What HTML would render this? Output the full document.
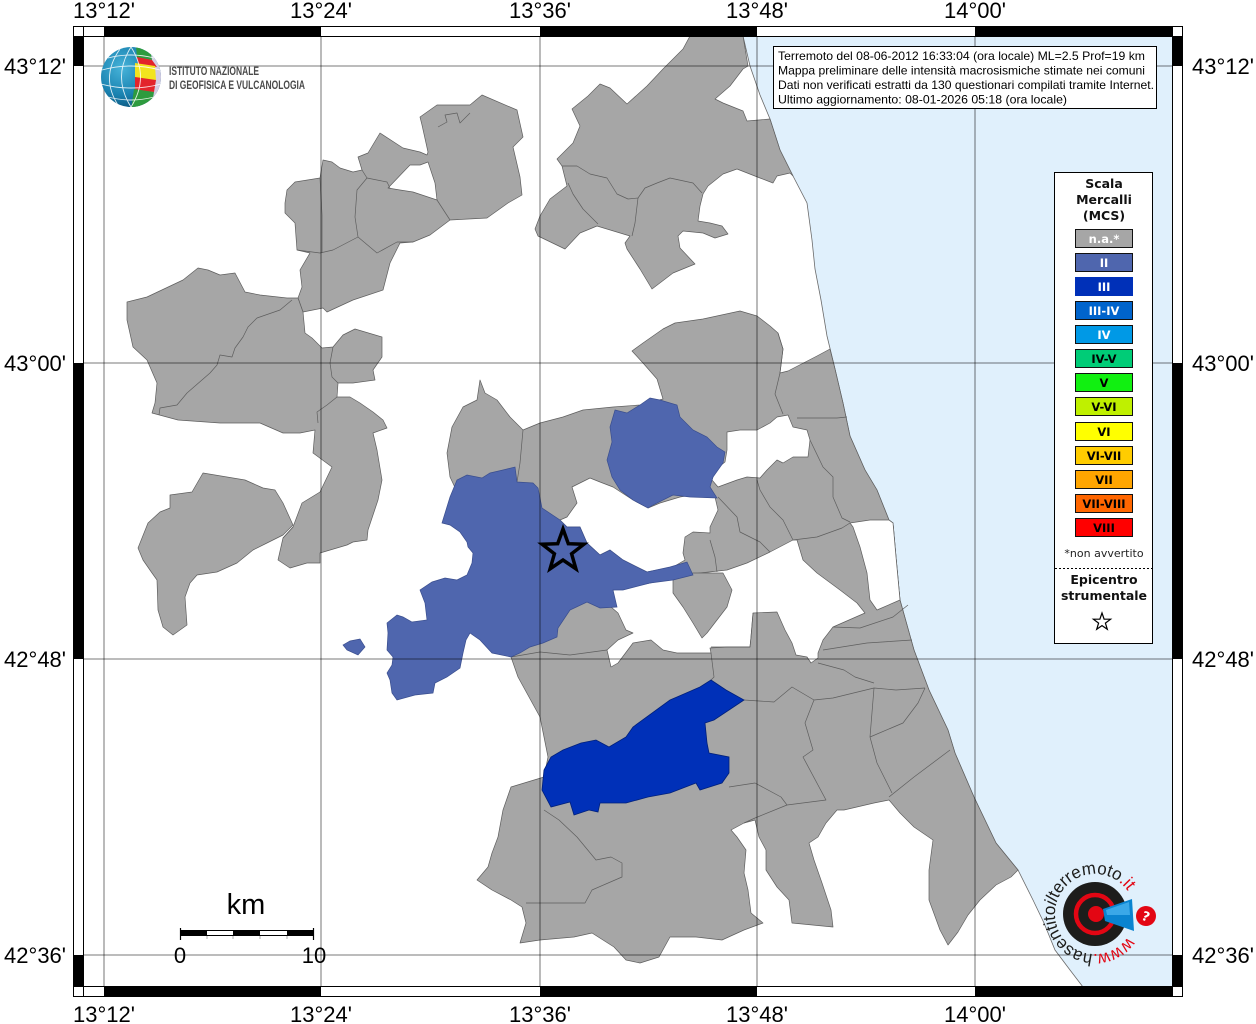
<!DOCTYPE html>
<html><head><meta charset="utf-8">
<style>
html,body{margin:0;padding:0;background:#fff;}
svg{display:block;}
.lbl{font-family:"Liberation Sans",Arial,sans-serif;font-size:22px;fill:#000;}
.lg{font-family:"DejaVu Sans","Liberation Sans",sans-serif;font-weight:bold;font-size:11.5px;text-anchor:middle;}
.lt{font-family:"DejaVu Sans","Liberation Sans",sans-serif;font-weight:bold;font-size:12.5px;text-anchor:middle;fill:#111;}
.info{font-family:"Liberation Sans",Arial,sans-serif;font-size:12px;fill:#000;}
.g{fill:#a6a6a6;stroke:#5e5e5e;stroke-width:0.7;stroke-linejoin:round;}
.w{fill:#fff;stroke:#5e5e5e;stroke-width:0.7;stroke-linejoin:round;}
.b{fill:none;stroke:#5e5e5e;stroke-width:0.7;stroke-linejoin:round;}
</style></head><body>
<svg width="1256" height="1024" viewBox="0 0 1256 1024" xmlns="http://www.w3.org/2000/svg">
<defs>
<clipPath id="mapclip"><rect x="83" y="36" width="1090" height="951"/></clipPath>
<clipPath id="globe"><circle cx="131" cy="77" r="30"/></clipPath>
<radialGradient id="gg" cx="0.35" cy="0.35" r="0.75">
<stop offset="0" stop-color="#46b3d9"/><stop offset="0.6" stop-color="#1a82b0"/><stop offset="1" stop-color="#0a4d74"/>
</radialGradient>
</defs>
<rect width="1256" height="1024" fill="#fff"/>
<g clip-path="url(#mapclip)">
<!-- sea -->
<polygon fill="#e0f0fc" stroke="#6a6a6a" stroke-width="0.8" points="743,36 750,66 760,95 770,119 780,150 793,176 807,203 812,240 815,269 821,300 827,336 835,369 843,403 850,436 865,470 877,490 889,520 893,523 896,557 900,600 914,650 929,690 948,730 955,753 974,797 996,843 1018,870 1033,900 1044,923 1055,950 1070,970 1083,987 1180,987 1180,30 743,30"/>

<!-- NW top cluster -->
<polygon class="g" points="285,203 287,190 295,182 320,178 323,160 332,162 340,168 353,172 362,170 358,157 368,153 380,133 403,148 420,152 427,155 428,152 422,125 420,117 437,105 470,105 482,95 517,110 523,137 513,147 520,177 522,195 508,203 487,218 450,220 430,235 413,242 400,243 390,263 383,290 353,300 327,312 323,308 303,312 298,298 302,287 300,270 310,253 297,250 295,223 285,213"/>
<polygon class="w" points="388,188 410,165 420,165 428,162 435,183 437,200 413,192 400,190"/>
<polyline class="b" points="320,178 322,215 322,253"/>
<polyline class="b" points="362,170 367,178 357,190 355,217 358,237 377,253 397,242 413,242"/>
<polyline class="b" points="367,178 387,182 390,188"/>
<polyline class="b" points="437,200 450,220"/>
<polyline class="b" points="297,250 320,253 333,250 358,237"/>
<polyline class="b" points="438,127 447,122 445,115 457,113 460,123 470,113"/>

<!-- W big left cluster -->
<polygon class="g" points="127,302 147,297 183,280 198,268 208,270 220,275 235,273 245,292 260,295 287,298 298,298 303,312 305,333 312,338 322,348 333,347 343,335 355,329 382,337 382,357 373,370 375,380 353,383 338,383 337,397 350,397 360,403 373,412 383,420 387,428 373,433 377,450 382,480 378,500 368,530 367,540 353,542 347,545 320,553 320,563 307,563 290,568 278,560 283,538 293,527 302,503 320,492 332,467 313,453 315,430 300,433 283,433 260,423 220,423 178,420 152,413 155,403 157,383 147,360 133,347 127,320"/>
<polyline class="b" points="292,300 280,310 257,318 248,327 243,337 235,348 232,357 220,355 217,365 210,373 187,393 177,405 160,408 159,415"/>
<polyline class="b" points="333,347 330,363 332,377 338,383"/>
<polyline class="b" points="337,397 327,405 317,412 318,423"/>
<polyline class="b" points="283,538 293,527"/>

<!-- SW piece -->
<polygon class="g" points="138,548 148,523 160,512 170,508 170,495 192,492 203,473 227,477 245,480 263,488 275,490 283,503 293,525 283,535 267,543 253,550 237,563 217,572 197,575 190,583 185,597 187,625 173,635 163,627 158,610 157,580 152,573 143,560"/>

<!-- top-middle cluster -->
<polygon class="g" points="627,104 647,86 663,69 683,49 690,36 743,36 748,66 743,69 730,86 715,99 723,103 743,111 747,121 770,119 780,150 793,176 790,173 777,176 773,183 760,178 737,169 723,174 708,186 703,194 700,206 698,221 710,223 722,226 728,234 715,238 703,233 683,231 678,236 680,248 695,264 673,273 652,289 640,269 627,249 625,243 630,236 597,226 580,233 565,249 538,236 535,229 540,216 550,199 567,186 562,166 557,159 573,143 580,126 572,109 588,96 600,84 610,88"/>
<polyline class="b" points="562,166 577,166 590,174 607,178 617,194 628,199 638,198 645,188 657,183 670,178 693,183 702,193"/>
<polyline class="b" points="568,183 573,194 583,209 598,224"/>
<polyline class="b" points="638,198 635,223 632,236"/>

<!-- SE mass -->
<polygon class="g" points="632,351 643,343 663,329 675,323 703,319 740,311 757,316 770,326 778,333 783,349 780,373 788,371 817,356 830,349 835,369 843,403 850,436 865,470 877,490 889,520 893,523 896,557 900,600 914,650 929,690 948,730 955,753 974,797 996,843 1018,870 1011,877 996,885 980,900 968,915 958,932 948,945 940,930 929,900 929,870 933,840 914,827 900,813 889,800 874,803 844,810 837,810 826,823 818,837 809,843 814,860 822,883 831,910 833,927 792,923 789,900 777,887 766,870 766,850 759,837 755,820 744,823 731,830 737,837 746,850 744,873 748,890 751,913 763,923 744,930 722,940 696,937 670,937 659,957 640,963 626,960 614,947 592,933 574,937 540,940 520,943 526,923 522,907 511,900 492,890 477,880 488,867 492,853 498,837 503,810 511,787 544,777 548,757 544,737 540,717 529,697 518,677 511,657 515,640 500,600 480,540 450,477 447,453 452,427 463,407 477,400 480,380 485,393 497,400 510,417 523,430 540,423 563,417 583,410 613,407 640,405 663,399 657,379 643,363"/>
<!-- white holes -->
<polygon class="w" points="577,503 572,487 590,478 600,482 613,487 633,500 648,508 660,503 680,497 703,493 715,497 718,510 710,527 710,533 693,532 685,537 683,553 685,560 673,567 647,572 623,560 610,550 600,555 587,543 580,527 567,527 560,520 567,517"/>
<polygon class="w" points="727,432 740,430 757,430 770,423 777,417 788,415 793,427 807,430 810,440 808,457 793,457 783,463 777,460 767,470 760,478 747,477 737,480 718,487 712,480 715,470 725,462 727,450"/>
<polygon class="w" points="850,523 870,520 889,520 893,523 896,557 900,600 877,610 870,600 867,573 860,547 853,527"/>
<polygon class="w" points="611,607 613,590 650,583 673,578 700,573 727,570 747,563 770,552 793,540 797,540 803,560 817,573 840,590 857,603 865,613 833,627 823,640 818,653 818,658 811,663 807,657 796,655 792,643 785,630 777,612 753,613 751,637 750,647 727,647 710,648 711,653 677,653 663,650 651,640 633,643 618,663 611,667 607,650 618,640 633,633 626,630 618,613"/>
<!-- shield -->
<polygon class="g" points="673,580 693,573 723,573 732,590 727,607 717,620 707,633 702,638 693,623 683,607 673,593"/>
<!-- internal borders SE -->
<polyline class="b" points="778,333 783,349 780,373 775,394 783,414"/>
<polyline class="b" points="797,418 837,418 847,417"/>
<polyline class="b" points="810,440 823,467 833,477 833,497 842,518 850,522"/>
<polyline class="b" points="793,540 817,537 842,528 850,523"/>
<polyline class="b" points="757,480 760,490 770,507 783,520 793,540"/>
<polyline class="b" points="718,497 737,517 740,532 760,542 770,552"/>
<polyline class="b" points="710,540 715,557 717,572"/>
<polyline class="b" points="523,430 520,463 517,482"/>
<polyline class="b" points="833,627 860,628 893,617 908,605"/>
<polyline class="b" points="823,650 867,643 912,640"/>
<polyline class="b" points="818,663 844,670 855,677 874,683"/>
<polyline class="b" points="711,653 714,677 711,680"/>
<polyline class="b" points="744,700 774,702 792,687 814,700 833,698 874,688 896,690 925,688"/>
<polyline class="b" points="814,700 805,723 813,750 803,757 826,800 787,805 755,818 744,823"/>
<polyline class="b" points="729,787 755,783 781,797 787,805"/>
<polyline class="b" points="874,688 870,737 877,763 892,793"/>
<polyline class="b" points="870,737 903,723 918,703 925,688"/>
<polyline class="b" points="889,797 914,777 950,750"/>
<polyline class="b" points="544,810 559,820 577,837 596,860 611,857 622,863 622,877 592,890 585,903 555,903 526,903"/>
<polyline class="b" points="511,657 540,652 570,655 607,650"/>
<polyline class="b" points="753,613 751,637 750,647 711,647"/>

<!-- blue II big -->
<polygon fill="#4f66ae" stroke="#3a4e8e" stroke-width="0.7" points="442,523 450,497 457,480 467,475 482,478 490,473 503,470 515,467 517,482 533,483 538,488 542,508 560,520 567,527 580,527 587,543 600,555 610,550 623,560 647,572 670,567 687,562 693,575 673,580 650,583 623,590 613,590 617,607 600,608 587,602 570,610 558,628 557,637 543,643 530,647 520,653 511,657 492,653 480,640 470,633 466,640 463,653 460,668 447,677 435,683 433,693 415,695 397,700 392,693 390,680 387,673 392,665 393,657 387,650 388,633 387,623 397,615 403,617 412,622 427,620 425,603 420,590 432,582 445,578 457,580 467,575 472,563 473,553 468,547 467,542 460,532 450,525"/>
<!-- blue II NE -->
<polygon fill="#4f66ae" stroke="#3a4e8e" stroke-width="0.7" points="615,410 627,413 640,405 650,398 660,400 677,405 680,417 693,430 707,437 717,447 725,452 723,463 713,477 710,487 717,498 690,497 673,495 653,505 648,508 633,500 620,490 612,477 607,460 612,442 610,427"/>
<!-- blue small -->
<polygon fill="#4f66ae" stroke="#3a4e8e" stroke-width="0.7" points="343,645 350,641 360,639 365,647 358,655 347,650"/>
<!-- blue III -->
<polygon fill="#0030b8" stroke="#00207a" stroke-width="0.8" points="711,680 726,690 744,700 729,710 714,720 705,723 707,743 709,753 729,757 729,773 722,783 700,790 696,783 670,793 648,797 626,803 600,803 598,812 589,810 574,815 570,802 551,807 542,790 544,770 551,757 563,750 581,743 596,740 609,747 626,737 633,727 670,700 677,697 700,687"/>

<!-- grid -->
<g stroke="#000" stroke-opacity="0.42" stroke-width="1.3">
<line x1="104" y1="36" x2="104" y2="987"/><line x1="321" y1="36" x2="321" y2="987"/><line x1="540" y1="36" x2="540" y2="987"/><line x1="757" y1="36" x2="757" y2="987"/><line x1="975" y1="36" x2="975" y2="987"/>
<line x1="83" y1="66" x2="1173" y2="66"/><line x1="83" y1="363" x2="1173" y2="363"/><line x1="83" y1="659" x2="1173" y2="659"/><line x1="83" y1="955" x2="1173" y2="955"/>
</g>
</g>

<!-- epicentre star -->
<polygon fill="none" stroke="#000" stroke-width="3.5" stroke-linejoin="miter" points="563,529 568.3,543.7 583.9,544.2 571.6,553.8 575.9,568.8 563,560 550.1,568.8 554.4,553.8 542.1,544.2 557.7,543.7"/>

<!-- frame -->
<g>
<rect x="73.5" y="26.5" width="1109" height="970" fill="none" stroke="#000" stroke-width="1"/>
<rect x="83.5" y="36.5" width="1089" height="950" fill="none" stroke="#000" stroke-width="1"/>
<rect x="104" y="27" width="217" height="9" fill="#000"/><rect x="540" y="27" width="217" height="9" fill="#000"/><rect x="975" y="27" width="198" height="9" fill="#000"/>
<rect x="104" y="987" width="217" height="9" fill="#000"/><rect x="540" y="987" width="217" height="9" fill="#000"/><rect x="975" y="987" width="198" height="9" fill="#000"/>
<rect x="74" y="36" width="9" height="30" fill="#000"/><rect x="74" y="363" width="9" height="296" fill="#000"/><rect x="74" y="955" width="9" height="32" fill="#000"/>
<rect x="1173" y="36" width="9" height="30" fill="#000"/><rect x="1173" y="363" width="9" height="296" fill="#000"/><rect x="1173" y="955" width="9" height="32" fill="#000"/>
<g stroke="#000" stroke-width="1">
<line x1="73" y1="36.5" x2="83" y2="36.5"/><line x1="73" y1="986.5" x2="83" y2="986.5"/><line x1="1173" y1="36.5" x2="1183" y2="36.5"/><line x1="1173" y1="986.5" x2="1183" y2="986.5"/>
<line x1="83.5" y1="26" x2="83.5" y2="36"/><line x1="1172.5" y1="26" x2="1172.5" y2="36"/><line x1="83.5" y1="987" x2="83.5" y2="997"/><line x1="1172.5" y1="987" x2="1172.5" y2="997"/>
</g>
</g>

<!-- axis labels -->
<g class="lbl" text-anchor="middle">
<text x="104" y="18">13°12'</text><text x="321" y="18">13°24'</text><text x="540" y="18">13°36'</text><text x="757" y="18">13°48'</text><text x="975" y="18">14°00'</text>
<text x="104" y="1022">13°12'</text><text x="321" y="1022">13°24'</text><text x="540" y="1022">13°36'</text><text x="757" y="1022">13°48'</text><text x="975" y="1022">14°00'</text>
</g>
<g class="lbl" text-anchor="end">
<text x="66" y="74">43°12'</text><text x="66" y="371">43°00'</text><text x="66" y="667">42°48'</text><text x="66" y="963">42°36'</text>
</g>
<g class="lbl" text-anchor="start">
<text x="1192" y="74">43°12'</text><text x="1192" y="371">43°00'</text><text x="1192" y="667">42°48'</text><text x="1192" y="963">42°36'</text>
</g>

<!-- INGV logo -->
<g>
<circle cx="131" cy="77" r="30" fill="url(#gg)"/>
<g clip-path="url(#globe)">
<polygon fill="#d3cde3" points="149,46 166,50 166,105 149,105"/>
<polygon fill="#2e9b3e" points="136,46 150,48 152,60 137,58"/>
<polygon fill="#e3242b" points="137,57 152,60 157,67 138,64"/>
<polygon fill="#f2e41e" points="135,63 155,66 156,80 135,78"/>
<polygon fill="#e3242b" points="135,77 156,80 154,92 135,90"/>
<polygon fill="#2e9b3e" points="134,89 154,92 151,110 131,110"/>
<g fill="none" stroke="#fff" stroke-width="0.9" opacity="0.85">
<path d="M131,47 Q112,77 131,107"/><path d="M131,47 Q150,77 131,107"/><path d="M120,49 Q100,77 118,105"/>
<path d="M102,70 Q131,62 160,70"/><path d="M101,84 Q131,92 161,84"/><path d="M108,58 Q131,52 154,58"/><path d="M108,97 Q131,103 154,97"/>
</g>
</g>
<text x="169" y="75" font-family="Liberation Sans,Arial,sans-serif" font-size="11.5" font-weight="bold" fill="#4a4a4a" textLength="90" lengthAdjust="spacingAndGlyphs">ISTITUTO NAZIONALE</text>
<text x="169" y="89" font-family="Liberation Sans,Arial,sans-serif" font-size="11.5" font-weight="bold" fill="#4a4a4a" textLength="136" lengthAdjust="spacingAndGlyphs">DI GEOFISICA E VULCANOLOGIA</text>
</g>

<!-- info box -->
<rect x="773.5" y="46.5" width="383" height="62" fill="#fff" stroke="#000" stroke-width="1"/>
<text class="info" x="778" y="60" textLength="367" lengthAdjust="spacingAndGlyphs">Terremoto del 08-06-2012 16:33:04 (ora locale) ML=2.5 Prof=19 km</text>
<text class="info" x="778" y="74.5" textLength="367" lengthAdjust="spacingAndGlyphs">Mappa preliminare delle intensità macrosismiche stimate nei comuni</text>
<text class="info" x="778" y="89" textLength="376" lengthAdjust="spacingAndGlyphs">Dati non verificati estratti da 130 questionari compilati tramite Internet.</text>
<text class="info" x="778" y="103.5" textLength="289" lengthAdjust="spacingAndGlyphs">Ultimo aggiornamento: 08-01-2026 05:18 (ora locale)</text>

<!-- legend -->
<rect x="1054.5" y="172.5" width="98" height="471" fill="#fff" stroke="#000" stroke-width="1"/>
<text class="lt" x="1104" y="188">Scala</text>
<text class="lt" x="1104" y="204">Mercalli</text>
<text class="lt" x="1104" y="220">(MCS)</text>
<g stroke="#111" stroke-width="1">
<rect x="1075.5" y="229.5" width="57" height="18" fill="#a6a6a6"/>
<rect x="1075.5" y="253.5" width="57" height="18" fill="#4f66ae"/>
<rect x="1075.5" y="277.5" width="57" height="18" fill="#0030b8" stroke="#0030b8"/>
<rect x="1075.5" y="301.5" width="57" height="18" fill="#0064cc"/>
<rect x="1075.5" y="325.5" width="57" height="18" fill="#0099e6"/>
<rect x="1075.5" y="349.5" width="57" height="18" fill="#00cc77"/>
<rect x="1075.5" y="373.5" width="57" height="18" fill="#11f011"/>
<rect x="1075.5" y="397.5" width="57" height="18" fill="#bff000"/>
<rect x="1075.5" y="422.5" width="57" height="18" fill="#ffff00"/>
<rect x="1075.5" y="446.5" width="57" height="18" fill="#ffcc00"/>
<rect x="1075.5" y="470.5" width="57" height="18" fill="#ffa500"/>
<rect x="1075.5" y="494.5" width="57" height="18" fill="#ff6600"/>
<rect x="1075.5" y="518.5" width="57" height="18" fill="#ff0000"/>
</g>
<g class="lg">
<text x="1104" y="243" fill="#fff">n.a.*</text>
<text x="1104" y="267" fill="#fff">II</text>
<text x="1104" y="291" fill="#fff">III</text>
<text x="1104" y="315" fill="#fff">III-IV</text>
<text x="1104" y="339" fill="#fff">IV</text>
<text x="1104" y="363" fill="#000">IV-V</text>
<text x="1104" y="387" fill="#000">V</text>
<text x="1104" y="411" fill="#000">V-VI</text>
<text x="1104" y="436" fill="#000">VI</text>
<text x="1104" y="460" fill="#000">VI-VII</text>
<text x="1104" y="484" fill="#000">VII</text>
<text x="1104" y="508" fill="#000">VII-VIII</text>
<text x="1104" y="532" fill="#000">VIII</text>
</g>
<text x="1104" y="557" font-family="DejaVu Sans,Liberation Sans,sans-serif" font-size="11" text-anchor="middle" fill="#222">*non avvertito</text>
<line x1="1055" y1="568.5" x2="1152" y2="568.5" stroke="#000" stroke-width="1" stroke-dasharray="2,2"/>
<text class="lt" x="1104" y="584">Epicentro</text>
<text class="lt" x="1104" y="600">strumentale</text>
<polygon fill="#fff" stroke="#000" stroke-width="1.2" points="1102,613 1104.1,619.1 1110.6,619.2 1105.4,623.1 1107.3,629.3 1102,625.6 1096.7,629.3 1098.6,623.1 1093.4,619.2 1099.9,619.1"/>

<!-- scale bar -->
<text x="246" y="914" text-anchor="middle" font-family="Liberation Sans,Arial,sans-serif" font-size="29" fill="#000">km</text>
<rect x="180.5" y="930.5" width="133" height="5" fill="#fff" stroke="#000" stroke-width="1"/>
<rect x="180" y="930" width="27" height="6" fill="#000"/>
<rect x="233" y="930" width="27" height="6" fill="#000"/>
<rect x="287" y="930" width="27" height="6" fill="#000"/>
<line x1="180.5" y1="928" x2="180.5" y2="940" stroke="#000" stroke-width="1.2"/>
<line x1="313.5" y1="928" x2="313.5" y2="940" stroke="#000" stroke-width="1.2"/>
<g stroke="#999" stroke-width="0.8"><line x1="207" y1="936" x2="207" y2="939"/><line x1="233" y1="936" x2="233" y2="939"/><line x1="260" y1="936" x2="260" y2="939"/><line x1="287" y1="936" x2="287" y2="939"/></g>
<text x="180" y="963" text-anchor="middle" font-family="Liberation Sans,Arial,sans-serif" font-size="22" fill="#000">0</text>
<text x="314" y="963" text-anchor="middle" font-family="Liberation Sans,Arial,sans-serif" font-size="22" fill="#000">10</text>

<!-- hasentitoilterremoto logo -->
<g>
<circle cx="1095" cy="914" r="32" fill="#1d1d1b"/>
<circle cx="1095" cy="914" r="19" fill="none" stroke="#e30613" stroke-width="4.5"/>
<circle cx="1096" cy="914" r="8" fill="#e30613"/>
<polygon fill="#0a84d0" points="1103,909 1132,899 1134,931 1105,921"/>
<polygon fill="#3aa8e8" points="1106,910 1129,902 1130,915 1107,915"/>
<circle cx="1146" cy="916" r="10" fill="#e30613"/>
<text x="1146" y="921" text-anchor="middle" font-family="DejaVu Sans,Liberation Sans,sans-serif" font-weight="bold" font-size="13" fill="#fff" transform="rotate(20 1146 916)">?</text>
<path id="logoarc" d="M1127.8,936.9 A40,40 0 1 1 1127.8,891.1" fill="none"/>
<text font-family="Liberation Sans,Arial,sans-serif" font-size="17.5"><textPath href="#logoarc" textLength="202" lengthAdjust="spacingAndGlyphs"><tspan fill="#e30613">www.</tspan><tspan fill="#1d1d1b">hasentito</tspan><tspan fill="#1d1d1b" font-style="italic">il</tspan><tspan fill="#1d1d1b">terremoto</tspan><tspan fill="#e30613">.it</tspan></textPath></text>
</g>
</svg>
</body></html>
